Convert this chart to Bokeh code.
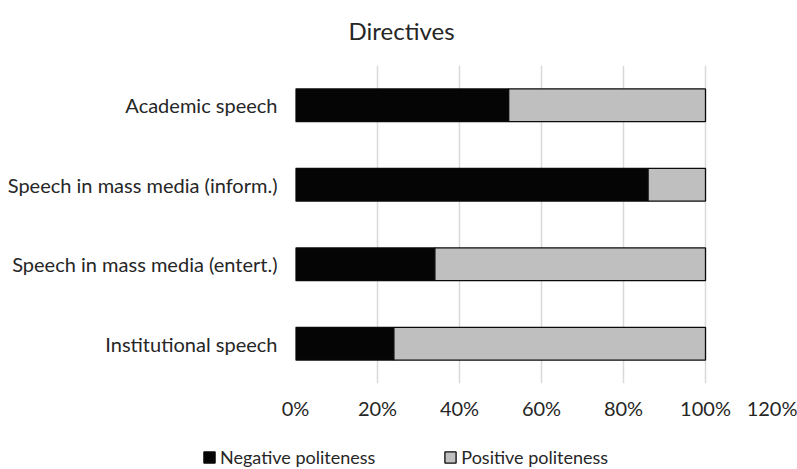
from bokeh.plotting import figure
from bokeh.models import (FactorRange, Range1d, FixedTicker, PrintfTickFormatter,
                          Legend, LegendItem, Label)
from bokeh.layouts import column
from bokeh.embed import file_html
from bokeh.resources import INLINE

# Genres, listed top to bottom as they appear on the chart
categories = [
    "Academic speech",
    "Speech in mass media (inform.)",
    "Speech in mass media (entert.)",
    "Institutional speech",
]
# Share of directives (percent) per politeness strategy
negative = [52, 86, 34, 24]
positive = [48, 14, 66, 76]
series_names = ["Negative politeness", "Positive politeness"]
x_ticks = [0, 20, 40, 60, 80, 100, 120]

FONT = "Lato"
TEXT = "#262626"
COLORS = ["#050505", "#bfbfbf"]
EDGE = "#0a0a0a"
W = 797


def strip(fig):
    """A bare canvas: no axes, grid, outline or toolbar, frame not aligned."""
    fig.outline_line_color = None
    fig.grid.visible = False
    fig.frame_align = False
    return fig


# ---- title strip -------------------------------------------------------
head = strip(figure(width=W, height=60, x_range=Range1d(0, W), y_range=Range1d(60, 0),
                    x_axis_type=None, y_axis_type=None, min_border=0,
                    output_backend="svg", toolbar_location=None))
head.add_layout(Label(x=401, y=30, text="Directives", text_align="center",
                      text_baseline="middle", text_font=FONT,
                      text_font_size="24px", text_color=TEXT))

# ---- main chart --------------------------------------------------------
data = dict(cat=categories, negative=negative, positive=positive)

p = figure(
    width=W, height=380,
    y_range=FactorRange(factors=list(reversed(categories))),
    x_range=Range1d(0, 120),
    output_backend="svg", toolbar_location=None,
    min_border_left=295, min_border_right=10,
    min_border_top=5, min_border_bottom=57,
)
p.frame_align = False

p.hbar_stack(
    ["negative", "positive"], y="cat", height=0.41, source=data,
    fill_color=COLORS, line_color=EDGE, line_width=1.3,
)

p.outline_line_color = None
p.ygrid.grid_line_color = None
p.xgrid.grid_line_color = "#d9d9d9"
p.xgrid.grid_line_width = 1.5

p.xaxis.ticker = FixedTicker(ticks=x_ticks)
p.xaxis.formatter = PrintfTickFormatter(format="%d%%")
for ax in (p.xaxis[0], p.yaxis[0]):
    ax.axis_line_color = None
    ax.major_tick_line_color = None
    ax.minor_tick_line_color = None
    ax.major_tick_out = 0
    ax.major_tick_in = 0
    ax.minor_tick_out = 0
    ax.major_label_text_font = FONT
    ax.major_label_text_color = TEXT
    ax.major_label_text_font_size = "20px"
p.xaxis.major_label_standoff = 12
p.yaxis.major_label_standoff = 18

# ---- legend strip ------------------------------------------------------
foot = strip(figure(width=W, height=29, x_range=Range1d(0, 1), y_range=Range1d(0, 1),
                    x_axis_type=None, y_axis_type=None, min_border=0,
                    output_backend="svg", toolbar_location=None))
# swatch renderers for the legend; their single zero-length bar lies off the strip
swatches = [foot.hbar(y=[-5], left=[0], right=[0], height=1, fill_color=c,
                      line_color=EDGE, line_width=1.3) for c in COLORS]
legend = Legend(
    items=[LegendItem(label=n, renderers=[r]) for n, r in zip(series_names, swatches)],
    orientation="horizontal", location=(202, 1),
    padding=0, margin=0, spacing=68,
    glyph_width=14, glyph_height=14, label_standoff=4,
    label_text_font=FONT, label_text_font_size="18px", label_text_color=TEXT,
    border_line_color=None, background_fill_alpha=0,
)
foot.add_layout(legend, "center")

open("out.html", "w").write(file_html(column(head, p, foot), INLINE))
